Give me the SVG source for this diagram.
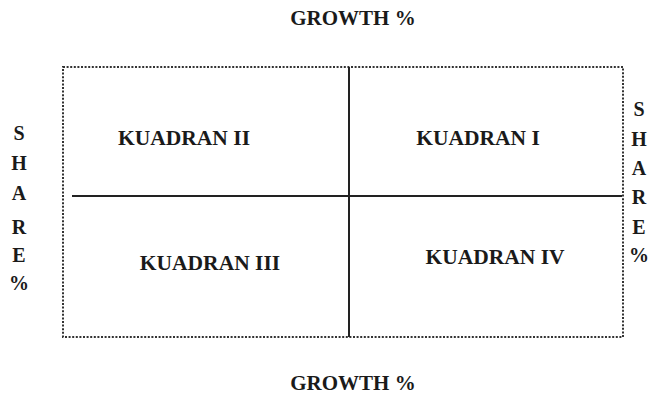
<svg xmlns="http://www.w3.org/2000/svg" width="650" height="395" viewBox="0 0 650 395">
<style>
text{font-family:"Liberation Serif","Times New Roman",serif;font-weight:bold;fill:#1a1a1a;text-anchor:middle}
.t{font-size:21px}
.q{font-size:21.5px}
.s{font-size:20px}
.border{fill:none;stroke:#333;stroke-width:2;stroke-dasharray:2 1.6}
.axis{stroke:#222;stroke-width:2}
</style>
<rect width="650" height="395" fill="#fff"/>
<g id="frame"><rect class="border" x="63" y="67" width="560" height="270"/></g>
<g id="connectors">
<line class="axis" x1="349" y1="67" x2="349" y2="337"/>
<line class="axis" x1="72" y1="196" x2="622" y2="196"/>
</g>
<g id="growth-top"><text class="t" x="353" y="25">GROWTH %</text></g>
<g id="growth-bottom"><text class="t" x="353" y="390">GROWTH %</text></g>
<g id="kuadran-2"><text class="q" x="184" y="145">KUADRAN II</text></g>
<g id="kuadran-1"><text class="q" x="478" y="145">KUADRAN I</text></g>
<g id="kuadran-3"><text class="q" x="210" y="270">KUADRAN III</text></g>
<g id="kuadran-4"><text class="q" x="495" y="264">KUADRAN IV</text></g>
<g id="share-left">
<text class="s" x="19" y="140">S</text>
<text class="s" x="19" y="170">H</text>
<text class="s" x="19" y="200">A</text>
<text class="s" x="19" y="234">R</text>
<text class="s" x="19" y="262">E</text>
<text class="s" x="19" y="290">%</text>
</g>
<g id="share-right">
<text class="s" x="639" y="116">S</text>
<text class="s" x="639" y="146">H</text>
<text class="s" x="639" y="175">A</text>
<text class="s" x="639" y="204">R</text>
<text class="s" x="639" y="234">E</text>
<text class="s" x="639" y="262">%</text>
</g>
</svg>
